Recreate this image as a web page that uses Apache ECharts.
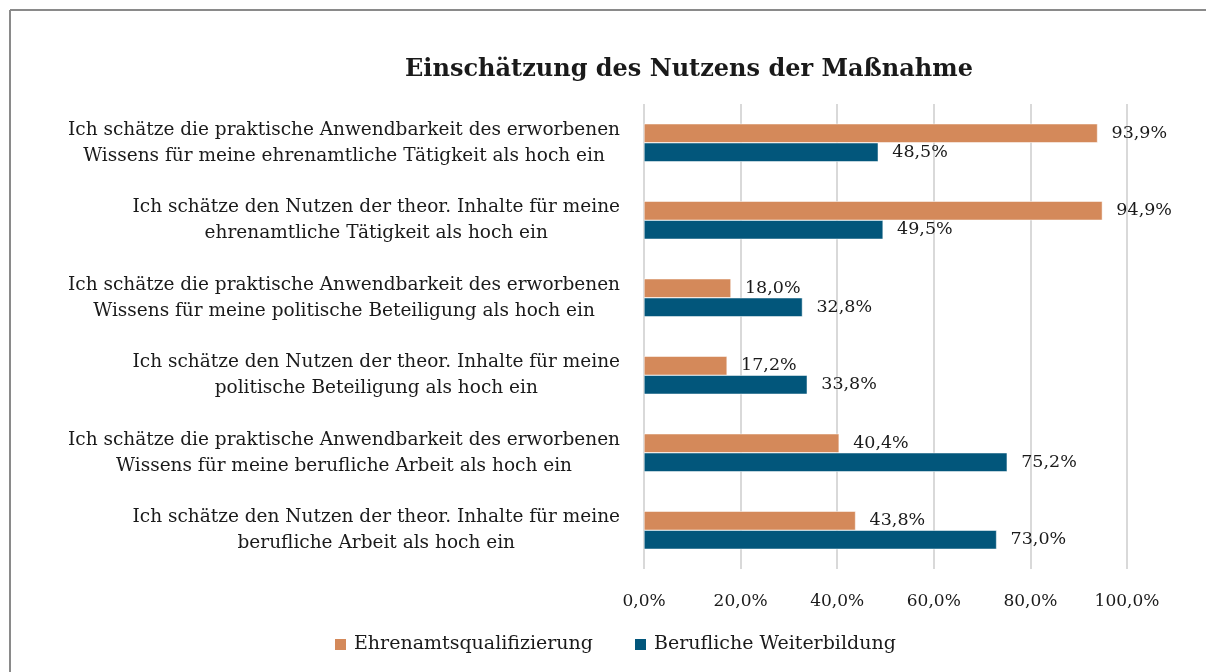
<!DOCTYPE html>
<html>
<head>
<meta charset="utf-8">
<script src="https://cdn.jsdelivr.net/npm/echarts@6/dist/echarts.min.js"></script>
<style>
  html, body { margin: 0; padding: 0; background: #fff; }
  #main { width: 1206px; height: 672px; }
</style>
</head>
<body>
<div id="main"></div>
<script>
var categories = [
  'Ich schätze die praktische Anwendbarkeit des erworbenen\nWissens für meine ehrenamtliche Tätigkeit als hoch ein',
  'Ich schätze den Nutzen der theor. Inhalte für meine\nehrenamtliche Tätigkeit als hoch ein',
  'Ich schätze die praktische Anwendbarkeit des erworbenen\nWissens für meine politische Beteiligung als hoch ein',
  'Ich schätze den Nutzen der theor. Inhalte für meine\npolitische Beteiligung als hoch ein',
  'Ich schätze die praktische Anwendbarkeit des erworbenen\nWissens für meine berufliche Arbeit als hoch ein',
  'Ich schätze den Nutzen der theor. Inhalte für meine\nberufliche Arbeit als hoch ein'
];
var ehrenamt = [93.9, 94.9, 18.0, 17.2, 40.4, 43.8];
var beruflich = [48.5, 49.5, 32.8, 33.8, 75.2, 73.0];
var seriesNames = ['Ehrenamtsqualifizierung', 'Berufliche Weiterbildung'];
var titleText = 'Einschätzung des Nutzens der Maßnahme';

var font = 'DejaVu Serif';
var pct = function (v) { return Number(v).toFixed(1).replace('.', ',') + '%'; };

var myChart = echarts.init(document.getElementById('main'), null, { renderer: 'canvas' });

var labelStyle = {
  show: true,
  position: 'right',
  distance: 14,
  color: '#1a1a1a',
  fontFamily: font,
  fontSize: 17.5,
  formatter: function (p) { return pct(p.value); }
};

var option = {
  backgroundColor: '#fff',
  animation: false,
  // frame of the original picture: only the left and top edges are visible
  graphic: [
    { type: 'line', shape: { x1: 10, y1: 10, x2: 10, y2: 672 }, style: { stroke: '#8a8a8a', lineWidth: 2 } },
    { type: 'line', shape: { x1: 10, y1: 10, x2: 1206, y2: 10 }, style: { stroke: '#8a8a8a', lineWidth: 2 } }
  ],
  title: {
    text: titleText,
    left: 684,
    top: 53,
    textAlign: 'center',
    textStyle: { fontFamily: font, fontWeight: 'bold', fontSize: 24, color: '#1a1a1a' }
  },
  legend: {
    data: seriesNames,
    left: 328,
    top: 630,
    icon: 'rect',
    itemWidth: 13,
    itemHeight: 13,
    itemGap: 40,
    textStyle: { fontFamily: font, fontSize: 19, color: '#1a1a1a', padding: [0, 0, 0, 2] }
  },
  grid: { left: 644, right: 79, top: 104, bottom: 103 },
  xAxis: {
    type: 'value',
    min: 0,
    max: 100,
    interval: 20,
    axisLine: { show: false },
    axisTick: { show: false },
    splitLine: { lineStyle: { color: '#d9d9d9', width: 2 } },
    axisLabel: {
      margin: 24,
      color: '#1a1a1a',
      fontFamily: font,
      fontSize: 17,
      formatter: pct
    }
  },
  yAxis: {
    type: 'category',
    inverse: true,
    data: categories,
    axisLine: { show: false },
    axisTick: { show: false },
    axisLabel: {
      margin: 24,
      color: '#1a1a1a',
      fontFamily: font,
      fontSize: 18.5,
      lineHeight: 26,
      formatter: function (v) {
        return v.split('\n').map(function (s) { return '{c|' + s + '}'; }).join('\n');
      },
      rich: {
        c: { align: 'center', fontFamily: font, fontSize: 18.5, lineHeight: 26, color: '#1a1a1a' }
      }
    }
  },
  series: [
    {
      name: seriesNames[0],
      type: 'bar',
      data: ehrenamt,
      barWidth: 19,
      barGap: '0%',
      itemStyle: { color: '#d4895a', borderColor: '#ffffff', borderWidth: 0.5 },
      label: labelStyle
    },
    {
      name: seriesNames[1],
      type: 'bar',
      data: beruflich,
      barWidth: 19,
      barGap: '0%',
      itemStyle: { color: '#02567b', borderColor: '#ffffff', borderWidth: 0.5 },
      label: labelStyle
    }
  ]
};

myChart.setOption(option);
</script>
</body>
</html>
